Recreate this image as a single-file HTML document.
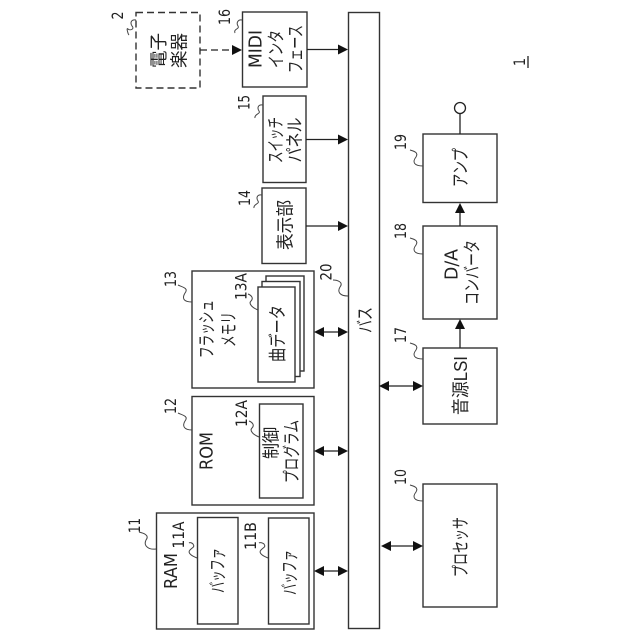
<!DOCTYPE html>
<html><head><meta charset="utf-8"><style>
html,body{margin:0;padding:0;background:#fff}
svg{display:block}
text{fill:#222;text-anchor:middle;font-family:"DejaVu Sans","Liberation Sans",sans-serif;font-size:16px}
.j{font-size:18px;font-family:"Liberation Sans","Noto Sans CJK JP",sans-serif}
.l{font-size:18px}
.box{fill:#fff;stroke:#333;stroke-width:1.4}
.ln{stroke:#222;stroke-width:1.3;fill:none}
.ld{stroke:#444;stroke-width:1;fill:none}
.ah{fill:#111;stroke:none}
</style></head><body>
<svg width="640" height="640" viewBox="0 0 640 640" xmlns="http://www.w3.org/2000/svg">
<!-- boxes -->
<rect class="box" x="348.5" y="12.5" width="31" height="616"/>
<rect class="box" x="136" y="12.5" width="64" height="75.5" style="stroke-dasharray:7 4"/>
<rect class="box" x="242.5" y="12" width="64.5" height="75"/>
<rect class="box" x="263" y="96" width="43" height="86.5"/>
<rect class="box" x="262" y="188" width="44" height="75.5"/>
<rect class="box" x="192" y="271" width="122" height="117"/>
<rect class="box" x="266" y="276" width="38" height="95"/>
<rect class="box" x="262" y="281.5" width="38" height="95"/>
<rect class="box" x="258" y="287" width="37" height="95"/>
<rect class="box" x="192" y="396.5" width="122" height="108.5"/>
<rect class="box" x="259.5" y="404" width="43.5" height="94"/>
<rect class="box" x="156.5" y="513" width="157.5" height="116"/>
<rect class="box" x="197.5" y="517.5" width="40.5" height="106.5"/>
<rect class="box" x="268.5" y="518" width="40.5" height="106"/>
<rect class="box" x="423" y="484" width="74" height="123"/>
<rect class="box" x="423" y="348" width="74" height="76"/>
<rect class="box" x="423" y="226" width="74" height="93"/>
<rect class="box" x="423" y="134" width="74" height="68.5"/>
<!-- connectors -->
<path class="ln" d="M200 50H234" style="stroke-dasharray:7 4"/>
<path class="ah" d="M242 50l-10-5v10z"/>
<path class="ln" d="M307 49.500H340"/><path class="ah" d="M348 49.500l-10-5v10z"/>
<path class="ln" d="M306 139.500H340"/><path class="ah" d="M348 139.500l-10-5v10z"/>
<path class="ln" d="M306 226H340"/><path class="ah" d="M348 226l-10-5v10z"/>
<path class="ln" d="M318 332H344"/><path class="ah" d="M314 332l10-5v10z M348 332l-10-5v10z"/>
<path class="ln" d="M318 451H344"/><path class="ah" d="M314 451l10-5v10z M348 451l-10-5v10z"/>
<path class="ln" d="M318 571H344"/><path class="ah" d="M314 571l10-5v10z M348 571l-10-5v10z"/>
<path class="ln" d="M384 386H419"/><path class="ah" d="M379 386l10-5v10z M423 386l-10-5v10z"/>
<path class="ln" d="M385 546H419"/><path class="ah" d="M381 546l10-5v10z M423 546l-10-5v10z"/>
<path class="ln" d="M460 348V328"/><path class="ah" d="M460 319l-5 10h10z"/>
<path class="ln" d="M460 226V211"/><path class="ah" d="M460 203l-5 10h10z"/>
<path class="ln" d="M460 134V113"/>
<circle class="ln" cx="460" cy="108" r="5.500"/>
<path class="ln" d="M528 56V68"/>
<!-- leaders -->
<path class="ld" d="M136 20c-5-1-6 3-4 6 3 3-2 5-4 3-2-2 0 5 1 6"/>
<path class="ld" d="M242 20c-4-1-6 3-4 6 2 3-5 3-3 7"/>
<path class="ld" d="M263 105c-5-1-6 3-4 6 2 3-5 3-4 7"/>
<path class="ld" d="M262 195c-5-1-6 3-4 6 2 3-5 3-4 7"/>
<path class="ld" d="M192 302c-9 0-10-4-7-9 4-5-3-6-7-8"/>
<path class="ld" d="M258 310c-5-2-10-6-7-9 3-3 0-6-3-7"/>
<path class="ld" d="M192 430c-8 0-10-4-7-9 4-5-3-6-7-8"/>
<path class="ld" d="M259 437c-5-2-10-6-7-9 3-3 0-6-3-7"/>
<path class="ld" d="M156 549c-7 1-13-3-10-9 4-5-3-7-7-8"/>
<path class="ld" d="M197 558c-5-2-10-5-7-8 3-3 5-3 3-6-1-1-3-2-4-1"/>
<path class="ld" d="M268 558c-5-2-10-5-7-8 3-3 5-3 3-6-1-1-4-2-5-1"/>
<path class="ld" d="M348 296c-8 0-11-4-8-9 4-5-3-7-7-7"/>
<path class="ld" d="M423 166c-9 0-11-4-7-9 3-5-3-6-6-7"/>
<path class="ld" d="M423 254c-9 0-11-4-7-9 3-5-3-6-6-7"/>
<path class="ld" d="M423 359c-9 0-11-4-7-9 3-5-3-6-6-7"/>
<path class="ld" d="M423 501c-9 0-11-4-7-9 3-5-3-6-6-7"/>
<!-- labels -->
<text class="j" transform="translate(158.500,50.500) rotate(-90)" dy=".35em" textLength="35" lengthAdjust="spacingAndGlyphs">電子</text>
<text class="j" transform="translate(179,50.500) rotate(-90)" dy=".35em" textLength="35" lengthAdjust="spacingAndGlyphs">楽器</text>
<text class="l" transform="translate(255,49) rotate(-90)" dy=".35em" textLength="38" lengthAdjust="spacingAndGlyphs">MIDI</text>
<text class="j" transform="translate(276,49) rotate(-90)" dy=".35em" textLength="38" lengthAdjust="spacingAndGlyphs">インタ</text>
<text class="j" transform="translate(295.500,49) rotate(-90)" dy=".35em" textLength="48" lengthAdjust="spacingAndGlyphs">フェース</text>
<text class="j" transform="translate(275.500,140) rotate(-90)" dy=".35em" textLength="46" lengthAdjust="spacingAndGlyphs">スイッチ</text>
<text class="j" transform="translate(294.500,140) rotate(-90)" dy=".35em" textLength="45" lengthAdjust="spacingAndGlyphs">パネル</text>
<text class="j" transform="translate(285,225) rotate(-90)" dy=".35em" textLength="50" lengthAdjust="spacingAndGlyphs">表示部</text>
<text class="j" transform="translate(206.500,329) rotate(-90)" dy=".35em" textLength="58" lengthAdjust="spacingAndGlyphs">フラッシュ</text>
<text class="j" transform="translate(228.500,329.500) rotate(-90)" dy=".35em" textLength="35" lengthAdjust="spacingAndGlyphs">メモリ</text>
<text class="j" transform="translate(277.500,333.500) rotate(-90)" dy=".35em" textLength="57" lengthAdjust="spacingAndGlyphs">曲データ</text>
<text class="l" transform="translate(206,451) rotate(-90)" dy=".35em" textLength="38" lengthAdjust="spacingAndGlyphs">ROM</text>
<text class="j" transform="translate(271,443) rotate(-90)" dy=".35em" textLength="32" lengthAdjust="spacingAndGlyphs">制御</text>
<text class="j" transform="translate(291.500,451.500) rotate(-90)" dy=".35em" textLength="63" lengthAdjust="spacingAndGlyphs">プログラム</text>
<text class="l" transform="translate(170.500,571) rotate(-90)" dy=".35em" textLength="36" lengthAdjust="spacingAndGlyphs">RAM</text>
<text class="j" transform="translate(217.500,570.500) rotate(-90)" dy=".35em" textLength="45" lengthAdjust="spacingAndGlyphs">バッファ</text>
<text class="j" transform="translate(289.500,572.500) rotate(-90)" dy=".35em" textLength="45" lengthAdjust="spacingAndGlyphs">バッファ</text>
<text class="j" transform="translate(365,320) rotate(-90)" dy=".35em" textLength="26" lengthAdjust="spacingAndGlyphs">バス</text>
<text class="j" transform="translate(460.500,167.500) rotate(-90)" dy=".35em" textLength="39" lengthAdjust="spacingAndGlyphs">アンプ</text>
<text class="l" transform="translate(451,264.500) rotate(-90)" dy=".35em" textLength="31" lengthAdjust="spacingAndGlyphs">D/A</text>
<text class="j" transform="translate(472,272.500) rotate(-90)" dy=".35em" textLength="65" lengthAdjust="spacingAndGlyphs">コンバータ</text>
<text class="j" transform="translate(460.500,385.500) rotate(-90)" dy=".35em" textLength="59" lengthAdjust="spacingAndGlyphs">音源LSI</text>
<text class="j" transform="translate(460.500,547) rotate(-90)" dy=".35em" textLength="60" lengthAdjust="spacingAndGlyphs">プロセッサ</text>
<!-- numbers -->
<text transform="translate(117.500,15.500) rotate(-90)" dy=".35em" textLength="8" lengthAdjust="spacingAndGlyphs">2</text>
<text transform="translate(224.500,17) rotate(-90)" dy=".35em" textLength="16" lengthAdjust="spacingAndGlyphs">16</text>
<text transform="translate(244,102.500) rotate(-90)" dy=".35em" textLength="15" lengthAdjust="spacingAndGlyphs">15</text>
<text transform="translate(244.500,198) rotate(-90)" dy=".35em" textLength="16" lengthAdjust="spacingAndGlyphs">14</text>
<text transform="translate(170.500,279) rotate(-90)" dy=".35em" textLength="16" lengthAdjust="spacingAndGlyphs">13</text>
<text transform="translate(241,286.500) rotate(-90)" dy=".35em" textLength="27" lengthAdjust="spacingAndGlyphs">13A</text>
<text transform="translate(326,272) rotate(-90)" dy=".35em" textLength="17" lengthAdjust="spacingAndGlyphs">20</text>
<text transform="translate(170.500,406) rotate(-90)" dy=".35em" textLength="16" lengthAdjust="spacingAndGlyphs">12</text>
<text transform="translate(241.500,413.500) rotate(-90)" dy=".35em" textLength="27" lengthAdjust="spacingAndGlyphs">12A</text>
<text transform="translate(134.500,525.500) rotate(-90)" dy=".35em" textLength="15" lengthAdjust="spacingAndGlyphs">11</text>
<text transform="translate(178.500,535) rotate(-90)" dy=".35em" textLength="27" lengthAdjust="spacingAndGlyphs">11A</text>
<text transform="translate(250.500,536) rotate(-90)" dy=".35em" textLength="28" lengthAdjust="spacingAndGlyphs">11B</text>
<text transform="translate(400.500,142) rotate(-90)" dy=".35em" textLength="16" lengthAdjust="spacingAndGlyphs">19</text>
<text transform="translate(400.500,231) rotate(-90)" dy=".35em" textLength="16" lengthAdjust="spacingAndGlyphs">18</text>
<text transform="translate(400.500,335) rotate(-90)" dy=".35em" textLength="16" lengthAdjust="spacingAndGlyphs">17</text>
<text transform="translate(400.500,477) rotate(-90)" dy=".35em" textLength="16" lengthAdjust="spacingAndGlyphs">10</text>
<text transform="translate(519.500,62) rotate(-90)" dy=".35em" textLength="8" lengthAdjust="spacingAndGlyphs">1</text>
</svg>
</body></html>
